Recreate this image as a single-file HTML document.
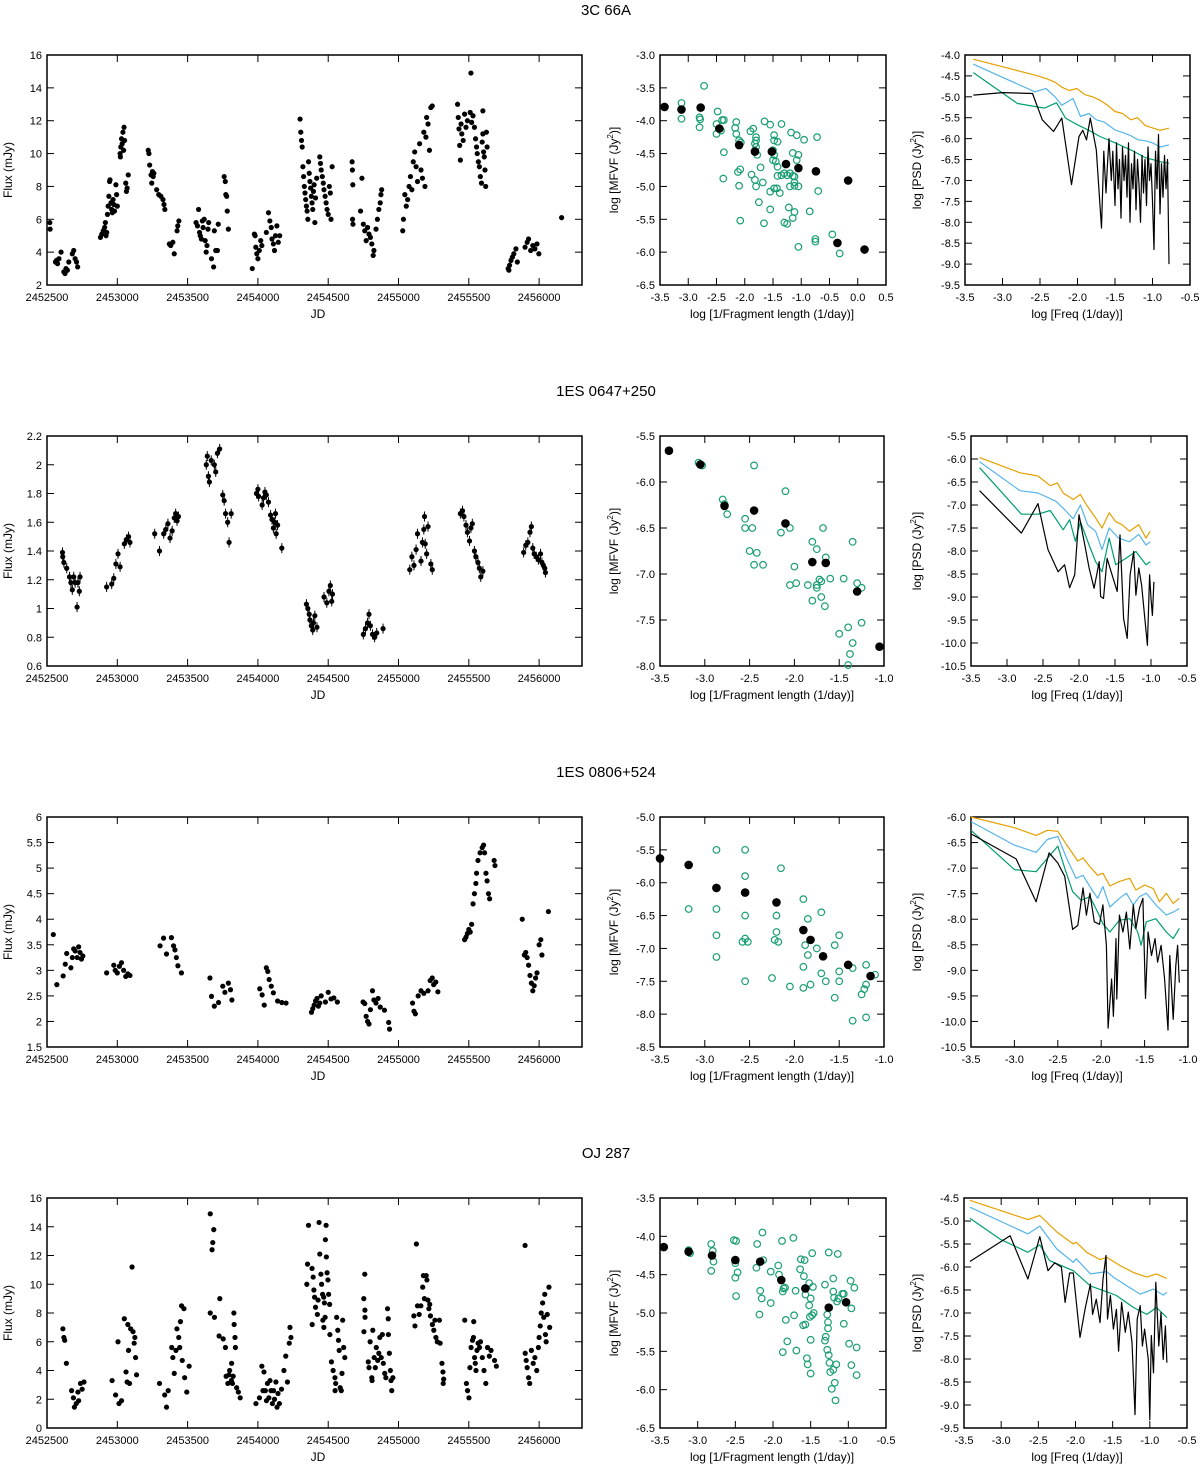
<!DOCTYPE html>
<html><head><meta charset="utf-8"><title>Variability panels</title>
<style>
html,body{margin:0;padding:0;background:#fff;}
svg{display:block;font-family:"Liberation Sans",Arial,sans-serif;}
</style></head>
<body>
<svg id="fig" xmlns="http://www.w3.org/2000/svg" width="1200" height="1467" viewBox="0 0 1200 1467"></svg>
<script>
// ---------- Light curve data [JD, flux] ----------
const lc1 = [[2452520,5.8],[2452522,5.4],[2452560,3.4],[2452568,3.5],[2452575,3.3],[2452585,3.6],[2452600,4.0],[2452620,2.8],[2452628,2.7],[2452635,3.0],[2452645,2.9],[2452655,3.4],[2452680,3.9],[2452690,4.1],[2452700,3.6],[2452710,3.4],[2452718,3.1],
[2452880,4.9],[2452890,5.1],[2452900,5.3],[2452910,5.5],[2452915,5.8],[2452920,5.0],[2452925,5.2],[2452930,6.3],[2452935,6.8],[2452940,7.4],[2452945,8.3],[2452948,8.4],[2452955,7.0],[2452960,6.6],[2452965,6.4],[2452970,7.2],[2452975,6.9],[2452980,6.5],[2452990,8.1],[2452995,7.5],[2453000,6.8],
[2453020,10.0],[2453025,10.4],[2453030,10.9],[2453040,11.3],[2453048,11.6],[2453022,9.8],[2453035,10.6],[2453045,10.2],[2453052,10.8],[2453060,8.2],[2453065,7.7],[2453070,7.9],[2453078,8.7],
[2453220,10.2],[2453225,10.0],[2453230,9.3],[2453240,8.7],[2453245,8.2],[2453250,8.9],[2453255,8.6],[2453260,8.8],[2453280,7.8],[2453295,7.5],[2453310,7.4],[2453325,7.2],[2453332,6.9],[2453338,6.6],
[2453370,4.5],[2453380,4.4],[2453395,4.6],[2453405,3.9],[2453425,5.3],[2453430,5.6],[2453438,5.9],
[2453560,5.8],[2453570,5.6],[2453578,6.6],[2453585,5.2],[2453590,5.0],[2453598,4.8],[2453605,5.9],[2453610,5.5],[2453618,6.0],[2453625,4.7],[2453632,4.0],[2453638,4.4],[2453645,5.4],[2453650,5.8],
[2453670,3.6],[2453685,3.1],[2453690,5.3],[2453700,4.1],[2453712,4.1],[2453718,5.7],[2453760,8.6],[2453768,8.3],[2453772,7.5],[2453778,7.4],[2453782,6.5],[2453790,5.4],
[2453960,3.0],[2453975,5.1],[2453980,5.0],[2453985,4.3],[2453992,3.9],[2454000,3.6],[2454010,4.1],[2454020,4.7],[2454028,4.4],[2454060,5.2],[2454075,6.4],[2454085,5.9],[2454095,5.5],[2454100,4.8],[2454110,4.5],[2454118,4.1],[2454125,5.0],[2454135,5.6],[2454145,4.6],[2454155,5.0],
[2454300,12.1],[2454305,11.3],[2454310,10.8],[2454315,10.4],[2454320,9.2],[2454325,8.6],[2454330,8.0],[2454335,7.6],[2454340,7.2],[2454345,6.8],[2454350,6.5],[2454355,6.0],[2454360,9.5],[2454365,8.8],[2454370,8.3],[2454375,7.9],[2454380,7.4],[2454385,7.0],[2454390,6.6],[2454395,7.7],[2454400,8.1],[2454405,5.8],[2454410,7.3],[2454418,8.5],
[2454440,9.8],[2454445,9.4],[2454450,9.0],[2454458,8.6],[2454465,8.2],[2454470,7.8],[2454478,7.4],[2454485,7.0],[2454492,6.6],[2454500,6.3],[2454508,8.0],[2454515,7.6],[2454520,6.0],[2454528,9.2],
[2454670,9.5],[2454672,9.0],[2454675,8.1],[2454673,6.0],[2454676,5.7],
[2454730,6.5],[2454740,8.5],[2454750,5.7],[2454760,5.3],[2454770,4.7],[2454780,5.5],[2454790,5.1],[2454800,4.9],[2454810,4.5],[2454820,3.8],[2454825,4.1],[2454840,5.4],[2454850,6.0],[2454860,6.6],[2454870,7.0],[2454875,7.5],[2454880,7.8],
[2455030,5.3],[2455035,6.0],[2455045,7.5],[2455055,6.8],[2455065,7.2],[2455075,8.0],[2455085,8.6],[2455095,7.8],[2455105,9.5],[2455115,10.1],[2455125,9.2],[2455135,8.3],[2455150,10.6],[2455160,9.0],[2455170,8.5],[2455180,11.3],[2455188,8.0],[2455195,11.0],[2455200,12.2],[2455210,11.8],[2455220,10.2],[2455230,12.8],[2455240,12.9],
[2455420,13.0],[2455425,12.2],[2455430,11.5],[2455435,10.5],[2455440,9.6],[2455445,11.8],[2455450,11.2],[2455460,10.8],[2455470,12.4],[2455480,11.6],[2455490,12.0],[2455515,14.9],[2455510,12.5],[2455520,11.9],[2455530,12.3],
[2455540,11.6],[2455548,10.9],[2455555,10.4],[2455560,10.0],[2455568,9.5],[2455575,9.2],[2455582,8.6],[2455590,8.2],[2455595,10.7],[2455600,11.2],[2455605,10.1],[2455610,9.8],[2455615,9.0],[2455620,8.0],[2455600,12.6],[2455625,11.3],[2455630,10.4],
[2455780,3.0],[2455790,3.2],[2455800,3.5],[2455810,3.7],[2455820,3.9],[2455835,4.2],[2455845,3.4],[2455785,2.9],
[2455900,4.3],[2455915,4.6],[2455925,4.8],[2455940,4.1],[2455955,4.4],[2455970,4.2],[2455985,4.5],[2455998,3.9],[2456160,6.1]];

const lc2 = [[2452610,1.39],[2452612,1.36],[2452620,1.32],[2452640,1.28],[2452660,1.22],[2452670,1.18],[2452680,1.13],[2452690,1.22],[2452700,1.18],[2452714,1.01],[2452720,1.18],[2452730,1.12],[2452735,1.22],
[2452924,1.15],[2452960,1.17],[2452975,1.21],[2452990,1.31],[2453005,1.38],[2453020,1.29],[2453050,1.45],[2453065,1.48],[2453080,1.5],[2453090,1.46],
[2453266,1.52],[2453300,1.40],[2453330,1.52],[2453345,1.55],[2453360,1.59],[2453375,1.49],[2453390,1.54],[2453405,1.63],[2453415,1.66],[2453425,1.61],[2453435,1.64],
[2453633,2.0],[2453640,2.06],[2453648,1.92],[2453655,1.88],[2453668,2.03],[2453690,2.0],[2453700,1.95],[2453712,2.08],[2453728,2.11],
[2453750,1.79],[2453760,1.75],[2453770,1.66],[2453785,1.6],[2453795,1.46],[2453810,1.66],
[2453990,1.80],[2454000,1.83],[2454005,1.78],[2454030,1.72],[2454040,1.77],[2454050,1.81],[2454060,1.79],[2454075,1.74],[2454090,1.65],[2454100,1.62],[2454110,1.56],[2454120,1.6],[2454125,1.66],[2454130,1.52],[2454140,1.58],[2454170,1.42],
[2454345,1.03],[2454355,1.0],[2454365,0.96],[2454370,0.92],[2454380,0.88],[2454390,0.85],[2454395,0.9],[2454405,0.95],[2454420,0.87],
[2454470,1.08],[2454490,1.04],[2454505,1.12],[2454515,1.16],[2454525,1.05],[2454530,1.1],
[2454750,0.82],[2454765,0.86],[2454780,0.90],[2454790,0.96],[2454800,0.88],[2454815,0.82],[2454830,0.80],[2454845,0.83],[2454890,0.86],
[2455080,1.27],[2455095,1.36],[2455110,1.30],[2455125,1.41],[2455135,1.52],[2455160,1.33],[2455170,1.46],[2455180,1.55],[2455185,1.64],[2455190,1.45],[2455200,1.38],[2455210,1.57],[2455230,1.31],[2455240,1.27],
[2455440,1.66],[2455455,1.68],[2455465,1.64],[2455480,1.58],[2455490,1.53],[2455505,1.47],[2455515,1.56],[2455525,1.59],[2455540,1.4],[2455550,1.36],[2455565,1.32],[2455575,1.28],[2455585,1.22],[2455600,1.26],
[2455890,1.39],[2455905,1.44],[2455920,1.46],[2455935,1.53],[2455945,1.57],[2455955,1.42],[2455965,1.38],[2455980,1.36],[2455995,1.34],[2456010,1.38],[2456020,1.32],[2456030,1.3],[2456040,1.28],[2456045,1.25]];

const lc3 = [[2452545,3.7],[2452570,2.72],[2452615,2.89],[2452630,3.12],[2452640,3.33],[2452670,3.05],[2452680,3.25],[2452690,3.42],[2452700,3.38],[2452715,3.25],[2452725,3.46],[2452735,3.35],[2452745,3.22],[2452755,3.28],
[2452924,2.95],[2452975,3.1],[2452985,3.0],[2453000,2.95],[2453015,3.08],[2453030,3.15],[2453045,3.0],[2453060,2.88],[2453075,2.93],[2453090,2.9],
[2453304,3.48],[2453329,3.63],[2453350,3.32],[2453385,3.64],[2453400,3.48],[2453410,3.4],[2453420,3.25],[2453431,3.09],[2453456,2.95],
[2453659,2.85],[2453670,2.49],[2453690,2.3],[2453720,2.37],[2453750,2.69],[2453765,2.57],[2453790,2.75],[2453805,2.62],[2453815,2.42],
[2454013,2.64],[2454030,2.52],[2454045,2.32],[2454060,3.05],[2454070,2.98],[2454080,2.82],[2454095,2.69],[2454110,2.56],[2454140,2.4],[2454170,2.37],[2454200,2.36],
[2454381,2.18],[2454390,2.25],[2454400,2.32],[2454410,2.4],[2454420,2.45],[2454430,2.3],[2454440,2.36],[2454450,2.5],[2454480,2.38],[2454500,2.57],[2454520,2.44],[2454540,2.46],[2454565,2.38],
[2454748,2.38],[2454760,2.35],[2454770,2.1],[2454780,2.0],[2454790,1.95],[2454800,2.23],[2454815,2.6],[2454825,2.42],[2454840,2.36],[2454855,2.45],[2454870,2.28],[2454900,2.22],[2454930,1.98],[2454936,1.85],
[2455100,2.36],[2455110,2.2],[2455120,2.15],[2455140,2.5],[2455160,2.6],[2455180,2.55],[2455210,2.6],[2455225,2.8],[2455240,2.85],[2455250,2.72],[2455265,2.77],[2455280,2.58],
[2455470,3.6],[2455480,3.65],[2455490,3.72],[2455500,3.8],[2455510,3.75],[2455520,3.9],[2455530,4.3],[2455540,4.5],[2455550,4.7],[2455555,4.9],[2455565,5.15],[2455580,5.3],[2455595,5.4],[2455605,5.45],[2455612,5.3],[2455622,4.9],[2455630,4.75],[2455640,4.5],[2455648,4.4],[2455680,5.15],[2455686,5.05],
[2455880,4.0],[2455895,3.3],[2455905,3.35],[2455915,3.25],[2455925,3.1],[2455935,2.9],[2455945,2.75],[2455955,2.6],[2455965,2.7],[2455975,2.85],[2455985,2.95],[2456000,3.5],[2456012,3.6],[2456020,3.3],[2456066,4.15]];

const lc4 = [[2452613,6.9],[2452620,6.3],[2452626,6.1],[2452638,4.5],[2452675,2.6],[2452688,2.1],[2452695,1.45],[2452708,1.7],[2452720,2.5],[2452725,1.9],[2452738,3.1],[2452750,2.7],[2452763,3.2],
[2452963,3.3],[2452988,2.3],[2453012,1.7],[2453030,1.9],[2453005,6.0],[2453050,7.6],[2453062,3.9],[2453075,7.2],[2453080,5.4],[2453095,6.9],[2453105,11.2],[2453112,6.7],[2453120,5.9],[2453130,4.9],[2453137,3.7],[2453087,3.1],[2453070,3.2],[2453125,6.3],
[2453300,3.1],[2453337,2.3],[2453350,1.45],[2453362,2.6],[2453387,5.6],[2453395,4.9],[2453405,3.8],[2453424,6.9],[2453437,6.3],[2453444,5.6],[2453457,8.5],[2453462,4.7],[2453474,8.3],[2453479,3.5],[2453494,2.5],[2453511,4.3],[2453417,5.4],[2453449,7.4],
[2453661,14.9],[2453686,13.8],[2453679,12.9],[2453674,12.4],[2453661,8.0],[2453691,7.7],[2453729,9.0],[2453724,6.4],[2453753,6.2],[2453769,5.6],[2453799,4.0],[2453811,3.3],[2453829,8.0],[2453831,7.2],[2453837,6.3],[2453840,5.6],[2453813,4.5],[2453824,3.6],[2453786,3.1],[2453849,2.8],[2453861,2.5],[2453874,2.1],[2453774,3.6],[2453794,3.7],[2453819,3.1],
[2453986,1.7],[2454011,2.1],[2454028,4.3],[2454043,3.9],[2454053,2.6],[2454068,3.1],[2454078,2.1],[2454093,2.6],[2454103,1.7],[2454118,2.0],[2454128,3.2],[2454143,2.4],[2454153,1.7],[2454168,2.7],[2454185,4.0],[2454198,5.0],[2454210,3.2],[2454223,5.9],[2454228,7.0],[2454235,6.3],[2454036,2.6],[2454061,1.9],[2454086,3.3],[2454111,2.6],[2454136,1.45],
[2454348,10.0],[2454360,14.1],[2454353,11.4],[2454385,11.1],[2454393,10.5],[2454398,9.6],[2454403,9.1],[2454410,8.4],[2454423,7.9],[2454435,14.3],[2454440,12.1],[2454448,10.7],[2454453,10.0],[2454460,9.3],[2454468,9.1],[2454473,8.7],[2454478,7.7],[2454485,14.1],[2454480,13.1],[2454487,11.9],[2454492,10.8],[2454498,10.3],[2454503,9.3],[2454510,8.6],[2454386,7.2],[2454428,8.9],[2454462,7.5],[2454469,7.0],[2454512,6.5],
[2454523,4.6],[2454535,4.0],[2454548,3.5],[2454553,3.1],[2454560,7.7],[2454568,6.8],[2454573,6.1],[2454578,5.4],[2454585,2.8],[2454593,2.6],[2454603,7.5],[2454610,5.6],[2454618,4.9],[2454598,3.8],[2454549,2.6],
[2454760,10.7],[2454753,9.0],[2454761,8.2],[2454762,7.7],[2454754,6.7],[2454785,4.6],[2454798,6.0],[2454810,3.5],[2454817,6.8],[2454827,4.9],[2454835,4.2],[2454842,5.6],[2454852,4.7],[2454860,5.2],[2454867,6.3],[2454877,4.9],[2454885,6.5],[2454892,4.5],[2454902,3.8],[2454910,3.5],[2454922,8.3],[2454927,7.6],[2454928,6.5],[2454935,5.2],[2454942,4.0],[2454947,3.3],[2454952,2.6],[2454960,3.5],[2454812,3.3],[2454790,4.2],
[2455127,12.8],[2455109,7.8],[2455117,7.1],[2455135,8.5],[2455147,7.9],[2455159,8.5],[2455172,9.8],[2455177,10.6],[2455184,9.0],[2455197,10.6],[2455202,10.3],[2455209,8.9],[2455216,8.3],[2455227,7.8],[2455241,7.2],[2455251,6.8],[2455259,7.5],[2455266,6.3],[2455276,6.0],[2455291,7.5],[2455296,5.9],[2455309,4.5],[2455316,3.9],[2455321,3.4],[2455318,3.1],[2455222,8.6],
[2455471,7.5],[2455483,3.1],[2455491,2.6],[2455501,2.1],[2455508,4.2],[2455516,5.6],[2455526,6.1],[2455533,6.3],[2455541,4.9],[2455546,4.5],[2455558,5.4],[2455566,5.9],[2455576,5.6],[2455583,6.0],[2455596,4.9],[2455608,4.0],[2455621,3.1],[2455633,5.6],[2455646,5.0],[2455658,5.4],[2455683,4.7],[2455696,4.3],[2455535,7.4],[2455551,4.0],
[2455900,12.7],[2455901,5.2],[2455908,4.7],[2455915,4.2],[2455925,3.5],[2455933,3.1],[2455945,5.4],[2455958,4.5],[2455970,4.9],[2455983,4.0],[2455995,5.6],[2456000,6.3],[2456008,7.1],[2456015,8.0],[2456025,8.7],[2456033,7.7],[2456040,9.3],[2456045,6.5],[2456050,6.0],[2456058,7.9],[2456070,9.8],[2456075,7.0]];

// ---------- MFVF data [log(1/length), log MFVF] ----------
const mfBlack1 = [[-3.42,-3.79],[-3.12,-3.83],[-2.78,-3.8],[-2.45,-4.12],[-2.1,-4.37],[-1.82,-4.47],[-1.52,-4.47],[-1.27,-4.66],[-1.05,-4.72],[-0.74,-4.77],[-0.36,-5.86],[-0.17,-4.91],[0.12,-5.96]];
const mfGreen1 = [[-2.72,-3.47],[-3.12,-3.73],[-3.12,-3.97],[-2.8,-3.95],[-2.79,-3.98],[-2.8,-4.1],[-2.48,-3.86],[-2.4,-3.99],[-2.37,-3.99],[-2.5,-4.05],[-2.5,-4.2],[-2.42,-4.15],[-2.37,-4.48],[-2.38,-4.88],[-2.15,-4.02],[-2.17,-4.11],[-2.15,-4.2],[-2.1,-4.3],[-2.07,-4.33],[-2.12,-4.78],[-2.08,-4.74],[-2.1,-4.99],[-2.08,-5.52],[-1.9,-4.16],[-1.85,-4.12],[-1.8,-4.25],[-1.8,-4.3],[-1.82,-4.35],[-1.8,-4.4],[-1.78,-4.52],[-1.72,-4.71],[-1.88,-4.82],[-1.82,-4.9],[-1.8,-5.0],[-1.68,-4.94],[-1.75,-5.24],[-1.65,-4.01],[-1.55,-4.06],[-1.48,-4.22],[-1.48,-4.3],[-1.42,-4.32],[-1.5,-4.45],[-1.48,-4.52],[-1.5,-4.6],[-1.45,-4.62],[-1.42,-4.7],[-1.42,-4.84],[-1.35,-4.83],[-1.3,-4.8],[-1.25,-4.83],[-1.2,-4.8],[-1.15,-4.84],[-1.12,-4.94],[-1.12,-4.99],[-1.2,-5.0],[-1.05,-5.0],[-1.48,-5.03],[-1.43,-5.03],[-1.38,-5.1],[-1.55,-5.08],[-1.55,-5.35],[-1.35,-4.05],[-1.18,-4.18],[-1.08,-4.22],[-0.95,-4.29],[-1.15,-4.49],[-1.05,-4.52],[-1.08,-4.6],[-1.12,-4.85],[-1.22,-5.32],[-1.12,-5.39],[-1.15,-5.48],[-1.3,-5.55],[-1.25,-5.57],[-1.66,-5.56],[-0.85,-5.38],[-0.72,-4.25],[-0.7,-5.07],[-0.75,-5.8],[-0.75,-5.84],[-0.45,-5.73],[-0.32,-6.02],[-1.05,-5.92]];
const mfBlack2 = [[-3.4,-5.66],[-3.05,-5.81],[-2.78,-6.26],[-2.45,-6.31],[-2.1,-6.45],[-1.8,-6.87],[-1.65,-6.88],[-1.3,-7.19],[-1.05,-7.79]];
const mfGreen2 = [[-3.07,-5.79],[-3.03,-5.82],[-2.8,-6.19],[-2.78,-6.24],[-2.75,-6.35],[-2.45,-5.82],[-2.55,-6.4],[-2.55,-6.5],[-2.5,-6.75],[-2.45,-6.9],[-2.47,-6.5],[-2.42,-6.77],[-2.35,-6.9],[-2.1,-6.1],[-2.15,-6.55],[-2.05,-6.5],[-2.0,-6.92],[-2.05,-7.12],[-1.98,-7.1],[-1.85,-7.12],[-1.8,-6.65],[-1.75,-6.73],[-1.72,-7.06],[-1.75,-7.12],[-1.8,-7.29],[-1.7,-7.25],[-1.68,-6.5],[-1.65,-6.82],[-1.6,-7.05],[-1.7,-7.08],[-1.75,-7.15],[-1.66,-7.35],[-1.5,-7.65],[-1.45,-7.05],[-1.4,-7.58],[-1.3,-7.1],[-1.25,-7.15],[-1.25,-7.53],[-1.35,-6.65],[-1.38,-7.87],[-1.35,-7.75],[-1.4,-7.99]];
const mfBlack3 = [[-3.5,-5.63],[-3.18,-5.73],[-2.87,-6.08],[-2.55,-6.15],[-2.2,-6.3],[-1.9,-6.72],[-1.82,-6.87],[-1.68,-7.12],[-1.4,-7.25],[-1.15,-7.42]];
const mfGreen3 = [[-3.18,-6.4],[-2.87,-5.5],[-2.87,-6.4],[-2.87,-6.8],[-2.87,-7.13],[-2.55,-5.5],[-2.55,-5.9],[-2.55,-6.5],[-2.55,-6.85],[-2.58,-6.9],[-2.52,-6.9],[-2.55,-7.5],[-2.15,-5.78],[-2.2,-6.5],[-2.2,-6.75],[-2.22,-6.87],[-2.18,-6.9],[-2.25,-7.45],[-2.05,-7.58],[-1.9,-6.25],[-1.85,-6.55],[-1.88,-6.95],[-1.85,-7.1],[-1.9,-7.28],[-1.9,-7.6],[-1.82,-7.55],[-1.7,-6.45],[-1.75,-7.0],[-1.7,-7.38],[-1.65,-7.5],[-1.55,-6.95],[-1.5,-6.8],[-1.5,-7.35],[-1.55,-7.75],[-1.35,-7.3],[-1.5,-7.5],[-1.35,-8.1],[-1.2,-7.55],[-1.25,-7.7],[-1.2,-7.25],[-1.1,-7.4],[-1.2,-8.05],[-1.22,-7.62]];
const mfBlack4 = [[-3.45,-4.14],[-3.12,-4.2],[-2.81,-4.25],[-2.5,-4.31],[-2.17,-4.33],[-1.89,-4.57],[-1.57,-4.68],[-1.26,-4.93],[-1.03,-4.86]];
const mfGreen4 = [[-3.12,-4.18],[-3.1,-4.22],[-2.82,-4.1],[-2.8,-4.19],[-2.79,-4.33],[-2.82,-4.45],[-2.52,-4.05],[-2.49,-4.06],[-2.5,-4.35],[-2.5,-4.54],[-2.47,-4.47],[-2.49,-4.78],[-2.14,-3.95],[-2.21,-4.1],[-2.22,-4.41],[-2.17,-4.71],[-2.15,-4.81],[-2.18,-5.02],[-2.13,-4.31],[-2.03,-4.46],[-2.03,-4.87],[-1.93,-4.38],[-1.92,-4.5],[-1.88,-4.06],[-1.86,-4.68],[-1.84,-4.67],[-1.87,-4.72],[-1.83,-5.09],[-1.81,-5.37],[-1.87,-5.51],[-1.73,-4.02],[-1.72,-5.03],[-1.7,-4.71],[-1.69,-5.49],[-1.63,-4.3],[-1.64,-4.43],[-1.58,-4.31],[-1.59,-4.52],[-1.6,-5.16],[-1.57,-5.15],[-1.57,-4.76],[-1.55,-5.59],[-1.54,-5.67],[-1.52,-4.61],[-1.5,-4.81],[-1.51,-5.05],[-1.52,-4.9],[-1.48,-4.22],[-1.47,-4.66],[-1.48,-5.03],[-1.5,-5.35],[-1.5,-5.79],[-1.46,-5.0],[-1.31,-4.63],[-1.3,-5.31],[-1.31,-5.36],[-1.28,-5.02],[-1.27,-5.12],[-1.27,-5.2],[-1.28,-5.48],[-1.26,-4.21],[-1.26,-5.55],[-1.25,-5.65],[-1.24,-5.77],[-1.22,-5.99],[-1.2,-4.55],[-1.2,-4.72],[-1.19,-4.8],[-1.2,-5.74],[-1.18,-5.91],[-1.17,-6.14],[-1.16,-5.67],[-1.14,-4.23],[-1.15,-4.85],[-1.13,-4.81],[-1.08,-4.75],[-1.06,-4.75],[-1.06,-5.14],[-0.99,-5.4],[-0.97,-4.58],[-0.96,-4.94],[-0.96,-5.68],[-0.92,-4.67],[-0.89,-5.45],[-0.89,-5.81]];

// ---------- PSD data: log freq (x) and log PSD (y) per curve ----------
const psd1OrangeX = [-3.39,-2.57,-2.42,-2.3,-2.2,-2.11,-2.01,-1.9,-1.8,-1.7,-1.6,-1.5,-1.4,-1.29,-1.2,-1.1,-0.99,-0.9,-0.78];
const psd1OrangeY = [-4.1,-4.48,-4.56,-4.65,-4.78,-4.85,-4.8,-4.95,-5.0,-5.08,-5.2,-5.35,-5.4,-5.55,-5.5,-5.68,-5.75,-5.8,-5.75];
const psd1BlueX = [-3.39,-2.57,-2.42,-2.3,-2.21,-2.06,-1.96,-1.85,-1.75,-1.65,-1.5,-1.4,-1.3,-1.19,-1.1,-1.0,-0.9,-0.78];
const psd1BlueY = [-4.22,-4.88,-4.8,-5.0,-5.2,-5.04,-5.47,-5.4,-5.55,-5.6,-5.79,-5.85,-5.92,-6.03,-6.05,-6.1,-6.2,-6.15];
const psd1GreenX = [-3.39,-2.8,-2.44,-2.28,-2.16,-2.0,-1.85,-1.7,-1.5,-1.29,-1.1,-0.9,-0.78];
const psd1GreenY = [-4.42,-5.16,-5.27,-5.14,-5.51,-5.67,-5.8,-5.95,-6.1,-6.27,-6.45,-6.55,-6.59];
const psd1BlackX = [-3.39,-3.0,-2.6,-2.47,-2.32,-2.21,-2.08,-1.98,-1.93,-1.88,-1.83,-1.75,-1.68,-1.65,-1.62,-1.6,-1.58,-1.55,-1.53,-1.5,-1.48,-1.46,-1.44,-1.42,-1.4,-1.38,-1.36,-1.34,-1.32,-1.3,-1.28,-1.26,-1.24,-1.22,-1.2,-1.18,-1.16,-1.14,-1.12,-1.1,-1.08,-1.06,-1.04,-1.02,-1.0,-0.98,-0.96,-0.94,-0.92,-0.9,-0.88,-0.86,-0.84,-0.82,-0.8,-0.78];
const psd1BlackY = [-4.96,-4.9,-4.92,-5.55,-5.83,-5.51,-7.1,-5.95,-5.8,-6.03,-5.51,-6.27,-8.14,-6.3,-7.3,-6.6,-6.0,-7.0,-6.3,-7.6,-6.1,-7.2,-6.5,-7.9,-6.2,-7.0,-6.4,-7.4,-6.1,-8.0,-6.6,-7.2,-6.3,-7.7,-6.5,-7.1,-8.0,-6.4,-7.3,-6.5,-7.6,-6.2,-7.0,-6.6,-7.5,-8.65,-6.3,-7.2,-5.9,-7.8,-6.6,-7.4,-6.4,-7.2,-6.5,-9.0];

const psd2OrangeX = [-3.38,-2.82,-2.57,-2.4,-2.3,-2.22,-2.08,-1.98,-1.9,-1.77,-1.68,-1.58,-1.49,-1.4,-1.3,-1.17,-1.07,-1.01];
const psd2OrangeY = [-5.97,-6.3,-6.37,-6.58,-6.52,-6.74,-6.88,-6.77,-6.99,-7.28,-7.5,-7.17,-7.36,-7.43,-7.57,-7.43,-7.72,-7.57];
const psd2BlueX = [-3.38,-2.82,-2.57,-2.32,-2.2,-2.08,-1.98,-1.88,-1.77,-1.68,-1.58,-1.45,-1.3,-1.17,-1.07,-1.01];
const psd2BlueY = [-6.06,-6.69,-6.74,-6.92,-7.1,-7.3,-7.0,-7.43,-7.57,-7.97,-7.5,-7.72,-7.8,-7.64,-7.87,-7.8];
const psd2GreenX = [-3.38,-2.8,-2.57,-2.4,-2.22,-2.13,-2.05,-1.98,-1.86,-1.77,-1.68,-1.58,-1.49,-1.35,-1.21,-1.07,-1.01];
const psd2GreenY = [-6.19,-7.2,-7.2,-7.12,-7.54,-7.32,-7.79,-7.36,-7.87,-8.23,-8.45,-7.72,-8.3,-8.16,-8.01,-8.3,-8.23];
const psd2BlackX = [-3.38,-2.8,-2.57,-2.43,-2.29,-2.2,-2.13,-2.06,-2.0,-1.92,-1.86,-1.79,-1.72,-1.7,-1.66,-1.61,-1.54,-1.47,-1.43,-1.38,-1.33,-1.29,-1.24,-1.21,-1.17,-1.13,-1.08,-1.05,-1.02,-1.0,-0.98,-0.96];
const psd2BlackY = [-6.69,-7.61,-6.97,-7.97,-8.45,-8.3,-8.8,-8.52,-7.21,-7.87,-8.37,-8.81,-8.23,-8.99,-9.03,-8.16,-8.52,-8.88,-7.65,-9.47,-9.9,-8.52,-8.01,-8.96,-8.37,-8.74,-9.55,-10.05,-8.52,-9.03,-9.4,-8.67];

const psd3OrangeX = [-3.5,-3.0,-2.75,-2.62,-2.5,-2.4,-2.27,-2.21,-2.13,-2.04,-1.98,-1.9,-1.79,-1.67,-1.6,-1.5,-1.4,-1.33,-1.25,-1.17,-1.1];
const psd3OrangeY = [-6.0,-6.21,-6.36,-6.26,-6.28,-6.54,-6.86,-6.8,-6.97,-7.14,-7.1,-7.35,-7.26,-7.2,-7.43,-7.33,-7.4,-7.66,-7.49,-7.69,-7.59];
const psd3BlueX = [-3.5,-3.0,-2.75,-2.62,-2.5,-2.4,-2.29,-2.21,-2.12,-2.04,-1.98,-1.9,-1.79,-1.71,-1.63,-1.56,-1.48,-1.37,-1.25,-1.17,-1.1];
const psd3BlueY = [-6.09,-6.55,-6.69,-6.44,-6.38,-6.8,-7.2,-7.14,-7.39,-7.59,-7.36,-7.76,-7.59,-7.49,-7.72,-7.56,-7.49,-7.72,-7.92,-7.86,-7.79];
const psd3GreenX = [-3.5,-3.0,-2.75,-2.5,-2.42,-2.33,-2.23,-2.13,-2.04,-1.98,-1.9,-1.79,-1.67,-1.58,-1.54,-1.48,-1.37,-1.25,-1.17,-1.1];
const psd3GreenY = [-6.26,-7.03,-7.07,-6.57,-7.0,-7.46,-7.63,-7.56,-7.86,-8.09,-8.25,-8.02,-7.99,-8.25,-8.51,-8.05,-7.99,-8.25,-8.38,-8.18];
const psd3BlackX = [-3.5,-2.98,-2.75,-2.6,-2.5,-2.42,-2.33,-2.27,-2.21,-2.17,-2.13,-2.08,-2.02,-1.98,-1.94,-1.92,-1.88,-1.86,-1.83,-1.82,-1.79,-1.75,-1.71,-1.67,-1.63,-1.6,-1.56,-1.52,-1.49,-1.46,-1.42,-1.38,-1.35,-1.31,-1.27,-1.23,-1.21,-1.17,-1.14,-1.12,-1.1];
const psd3BlackY = [-6.33,-6.82,-7.66,-6.7,-6.9,-7.16,-8.2,-8.12,-7.39,-7.92,-7.49,-8.05,-8.1,-7.72,-8.51,-10.13,-9.17,-9.9,-8.38,-9.56,-7.92,-8.25,-7.86,-8.58,-7.72,-8.18,-7.79,-7.59,-9.55,-8.25,-8.71,-8.38,-8.84,-8.51,-9.17,-10.17,-8.71,-9.96,-8.91,-8.51,-9.24];

const psd4OrangeX = [-3.42,-2.64,-2.48,-2.25,-2.03,-1.99,-1.85,-1.67,-1.58,-1.4,-1.22,-1.04,-0.91,-0.77];
const psd4OrangeY = [-4.55,-4.97,-4.88,-5.24,-5.5,-5.46,-5.68,-5.84,-5.79,-5.97,-6.12,-6.22,-6.15,-6.25];
const psd4BlueX = [-3.42,-2.64,-2.48,-2.25,-2.03,-1.99,-1.8,-1.58,-1.49,-1.31,-1.13,-0.95,-0.82,-0.77];
const psd4BlueY = [-4.7,-5.28,-5.11,-5.61,-5.9,-5.82,-6.15,-6.1,-6.22,-6.41,-6.59,-6.48,-6.61,-6.55];
const psd4GreenX = [-3.42,-3.02,-2.64,-2.48,-2.35,-2.03,-1.8,-1.58,-1.45,-1.22,-1.04,-0.91,-0.77];
const psd4GreenY = [-4.94,-5.39,-5.68,-5.52,-5.86,-6.08,-6.41,-6.54,-6.62,-6.88,-7.03,-6.88,-7.1];
const psd4BlackX = [-3.42,-2.88,-2.64,-2.48,-2.37,-2.28,-2.19,-2.14,-2.08,-2.03,-1.94,-1.87,-1.8,-1.77,-1.72,-1.67,-1.63,-1.59,-1.57,-1.53,-1.49,-1.45,-1.42,-1.38,-1.33,-1.29,-1.24,-1.2,-1.17,-1.13,-1.1,-1.07,-1.02,-1.0,-0.98,-0.95,-0.92,-0.88,-0.85,-0.82,-0.79,-0.77];
const psd4BlackY = [-5.88,-5.32,-6.26,-5.34,-6.08,-5.91,-6.0,-6.77,-6.13,-6.13,-7.53,-6.9,-6.37,-7.03,-6.7,-7.21,-6.26,-5.75,-7.13,-6.62,-7.35,-6.92,-7.83,-6.77,-7.42,-6.98,-7.64,-9.21,-7.13,-6.84,-7.72,-7.35,-8.01,-9.32,-7.49,-8.3,-6.33,-7.72,-6.99,-8.01,-7.28,-8.08];

// ---------- Tick label arrays ----------
const jdTicks = [2452500,2453000,2453500,2454000,2454500,2455000,2455500,2456000];
const titles = ["3C 66A","1ES 0647+250","1ES 0806+524","OJ 287"];
const lcYTicks = [[2,4,6,8,10,12,14,16],[0.6,0.8,1,1.2,1.4,1.6,1.8,2,2.2],[1.5,2,2.5,3,3.5,4,4.5,5,5.5,6],[0,2,4,6,8,10,12,14,16]];

// ---------- Rendering ----------
const NS = "http://www.w3.org/2000/svg";
const svg = document.getElementById('fig');
function el(tag, attrs, parent){ const e=document.createElementNS(NS,tag); for(const k in attrs) e.setAttribute(k,attrs[k]); (parent||svg).appendChild(e); return e; }
function txt(s, x, y, opts, parent){ const t=el('text',Object.assign({x:x,y:y,'font-size':11,fill:'#000'},opts||{}),parent); t.textContent=s; return t; }
function fmt(v,d){ return v.toFixed(d); }
function fmtJ(v){ return String(v); }
function fmtShort(v){ return String(Math.round(v*100)/100); }

function makeAxes(g, fr, xr, yr, xt, yt, xfmt, yfmt, name){
  const sx = v => fr.x0 + (v-xr[0])/(xr[1]-xr[0])*(fr.x1-fr.x0);
  const sy = v => fr.y1 - (v-yr[0])/(yr[1]-yr[0])*(fr.y1-fr.y0);
  const frame = el('rect',{x:fr.x0,y:fr.y0,width:fr.x1-fr.x0,height:fr.y1-fr.y0,fill:'none',stroke:'#000','stroke-width':1.5},g);
  
  
  const tg = el('g',{},g);
  
  
  xt.forEach(v=>{ const x=sx(v);
    el('line',{x1:x,y1:fr.y1,x2:x,y2:fr.y1-7,stroke:'#000','stroke-width':1},tg);
    el('line',{x1:x,y1:fr.y0,x2:x,y2:fr.y0+7,stroke:'#000','stroke-width':1},tg);
    const t=txt(xfmt(v), x, fr.y1+16, {'text-anchor':'middle'}, tg);
    
    
  });
  const yg = el('g',{},g);
  
  
  yt.forEach(v=>{ const y=sy(v);
    el('line',{x1:fr.x0,y1:y,x2:fr.x0+7,y2:y,stroke:'#000','stroke-width':1},yg);
    el('line',{x1:fr.x1,y1:y,x2:fr.x1-7,y2:y,stroke:'#000','stroke-width':1},yg);
    const t=txt(yfmt(v), fr.x0-5, y+4, {'text-anchor':'end'}, yg);
    
    
  });
  return {sx, sy};
}
function range(a,b,s){ const r=[]; for(let v=a; v<=b+1e-9; v+=s) r.push(Math.round(v*100)/100); return r; }

const rowTop = [55,436,817,1198];
const lcData = [lc1,lc2,lc3,lc4];
const lcYR = [[2,16],[0.6,2.2],[1.5,6],[0,16]];
const mfB = [mfBlack1,mfBlack2,mfBlack3,mfBlack4];
const mfG = [mfGreen1,mfGreen2,mfGreen3,mfGreen4];
const mfXR = [[-3.5,0.5],[-3.5,-1.0],[-3.5,-1.0],[-3.5,-0.5]];
const mfYR = [[-6.5,-3.0],[-8.0,-5.5],[-8.5,-5.0],[-6.5,-3.5]];
const psdXR = [[-3.5,-0.5],[-3.5,-0.5],[-3.5,-1.0],[-3.5,-0.5]];
const psdYR = [[-9.5,-4.0],[-10.5,-5.5],[-10.5,-6.0],[-9.5,-4.5]];
const psdFrameX = [[965,1190],[971,1187],[971,1188],[964,1187]];
const psdCurves = [
 [[psd1OrangeX,psd1OrangeY],[psd1BlueX,psd1BlueY],[psd1GreenX,psd1GreenY],[psd1BlackX,psd1BlackY]],
 [[psd2OrangeX,psd2OrangeY],[psd2BlueX,psd2BlueY],[psd2GreenX,psd2GreenY],[psd2BlackX,psd2BlackY]],
 [[psd3OrangeX,psd3OrangeY],[psd3BlueX,psd3BlueY],[psd3GreenX,psd3GreenY],[psd3BlackX,psd3BlackY]],
 [[psd4OrangeX,psd4OrangeY],[psd4BlueX,psd4BlueY],[psd4GreenX,psd4GreenY],[psd4BlackX,psd4BlackY]]];
const curveColors = ['#e69f00','#56b4e9','#009e73','#000000'];
const curveNames = ['psd-orange-line','psd-blue-line','psd-green-line','psd-black-line'];

for(let r=0;r<4;r++){
  const top=rowTop[r], bot=top+230;
  const row = el('g',{});
  
  
  const tt = txt(titles[r], 606, top-40, {'text-anchor':'middle','font-size':15}, row);
  
  

  // Light curve
  const g1 = el('g',{},row);
  
  
  const a1 = makeAxes(g1,{x0:47,x1:582,y0:top,y1:bot},[2452500,2456305],lcYR[r],jdTicks,lcYTicks[r],fmtJ,fmtShort,'light-curve');
  const pts = el('g',{},g1);
  
  
  lcData[r].forEach(p=>{
    if(r===1){ el('line',{x1:a1.sx(p[0]),x2:a1.sx(p[0]),y1:a1.sy(p[1]+0.035),y2:a1.sy(p[1]-0.035),stroke:'#000','stroke-width':1},pts); }
    const c=el('circle',{cx:a1.sx(p[0]),cy:a1.sy(p[1]),r:2.6,fill:'#000'},pts);
    
    
  });
  const xl = txt('JD',318,bot+33,{'text-anchor':'middle','font-size':12},g1);
  
  
  const yl = txt('Flux (mJy)',0,0,{'text-anchor':'middle','font-size':12,transform:`translate(12,${top+115}) rotate(-90)`},g1);
  
  

  // MFVF
  const g2 = el('g',{},row);
  
  
  const mx0=660, mx1=(r===1||r===2)?884:886;
  const a2 = makeAxes(g2,{x0:mx0,x1:mx1,y0:top,y1:bot},mfXR[r],mfYR[r],range(mfXR[r][0],mfXR[r][1],0.5),range(mfYR[r][0],mfYR[r][1],0.5),v=>fmt(v,1),v=>fmt(v,1),'mfvf');
  mfG[r].forEach(p=>{
    const c=el('circle',{cx:a2.sx(p[0]),cy:a2.sy(p[1]),r:3.3,fill:'none',stroke:'#1a9e74','stroke-width':1.2},g2);
    
    
  });
  mfB[r].forEach(p=>{
    const c=el('circle',{cx:a2.sx(p[0]),cy:a2.sy(p[1]),r:4.3,fill:'#000'},g2);
    
    
  });
  const xl2 = txt('log [1/Fragment length (1/day)]',772,bot+33,{'text-anchor':'middle','font-size':12},g2);
  
  
  const yl2 = el('text',{'text-anchor':'middle','font-size':12,transform:`translate(618,${top+115}) rotate(-90)`},g2);
  yl2.innerHTML = 'log [MFVF (Jy<tspan dy="-5" font-size="8">2</tspan><tspan dy="5">)]</tspan>';
  
  

  // PSD
  const g3 = el('g',{},row);
  
  
  const fx = psdFrameX[r];
  const a3 = makeAxes(g3,{x0:fx[0],x1:fx[1],y0:top,y1:bot},psdXR[r],psdYR[r],range(psdXR[r][0],psdXR[r][1],0.5),range(psdYR[r][0],psdYR[r][1],0.5),v=>fmt(v,1),v=>fmt(v,1),'psd');
  psdCurves[r].forEach((cv,i)=>{
    const d = cv[0].map((x,k)=>(k?'L':'M')+a3.sx(x).toFixed(1)+','+a3.sy(cv[1][k]).toFixed(1)).join('');
    const p=el('path',{d:d,fill:'none',stroke:curveColors[i],'stroke-width':1.2,'stroke-linejoin':'round'},g3);
    
    
  });
  const xl3 = txt('log [Freq (1/day)]',1077,bot+33,{'text-anchor':'middle','font-size':12},g3);
  
  
  const yl3 = el('text',{'text-anchor':'middle','font-size':12,transform:`translate(921,${top+115}) rotate(-90)`},g3);
  yl3.innerHTML = 'log [PSD (Jy<tspan dy="-5" font-size="8">2</tspan><tspan dy="5">)]</tspan>';
  
  
}
</script>
</body></html>
